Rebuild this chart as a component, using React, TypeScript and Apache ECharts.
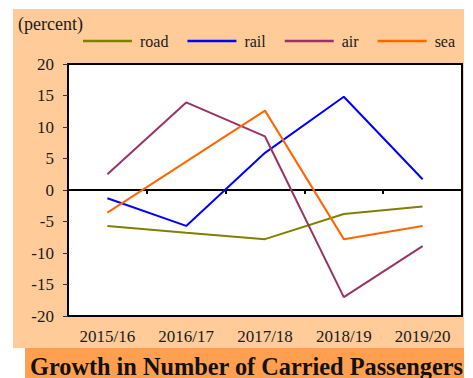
import React, { useEffect, useRef } from "react";
import * as echarts from "echarts";

// Fiscal years on the category axis
const years = ["2015/16", "2016/17", "2017/18", "2018/19", "2019/20"];

// Growth rates (percent) by transport mode
const road = [-5.7, -6.8, -7.8, -3.8, -2.6];
const rail = [-1.3, -5.7, 5.9, 14.8, 1.7];
const air = [2.5, 13.9, 8.5, -17.0, -8.9];
const sea = [-3.6, 4.5, 12.6, -7.8, -5.7];

const yMin = -20;
const yMax = 20;
const yStep = 5;

const unitLabel = "(percent)";
const titleText = "Growth in Number of Carried Passengers";

const SERIF = "'Liberation Serif', 'Times New Roman', serif";

export default function App() {
  const ref = useRef<HTMLDivElement>(null);

  useEffect(() => {
    if (!ref.current) return;
    const chart = echarts.init(ref.current, undefined, { renderer: "svg" });

    const mk = (name: string, data: number[], color: string) => ({
      name,
      type: "line",
      data,
      xAxisIndex: 0,
      symbol: "none",
      lineStyle: { color, width: 2 },
      itemStyle: { color },
      z: 3,
    });

    chart.setOption({
      animation: false,
      backgroundColor: "#ffffff",
      textStyle: { fontFamily: SERIF },
      graphic: [
        {
          type: "rect",
          z: -10,
          shape: { x: 13, y: 9, width: 451, height: 339 },
          style: { fill: "#FFCC99" },
          silent: true,
        },
        {
          type: "rect",
          z: -10,
          shape: { x: 25, y: 348, width: 439, height: 30 },
          style: { fill: "#FF9F4F" },
          silent: true,
        },
        {
          type: "text",
          x: 18,
          y: 24,
          style: {
            text: unitLabel,
            font: `18px ${SERIF}`,
            fill: "#1a1a1a",
            verticalAlign: "middle",
          },
        },
        {
          type: "text",
          x: 30,
          y: 366,
          style: {
            text: titleText,
            font: `bold 24.3px ${SERIF}`,
            fill: "#111",
            verticalAlign: "middle",
          },
        },
      ],
      legend: {
        left: 83,
        top: 33,
        padding: 0,
        icon: "rect",
        itemWidth: 49,
        itemHeight: 2.5,
        itemGap: 19,
        formatter: "{s|{name}}",
        textStyle: {
          fontFamily: SERIF,
          fontSize: 16,
          color: "#1a1a1a",
          rich: {
            s: { fontFamily: SERIF, fontSize: 16, color: "#1a1a1a", padding: [0, 0, 0, 3] },
          },
        },
        data: ["road", "rail", "air", "sea"],
      },
      grid: {
        left: 68,
        top: 64,
        right: 11,
        bottom: 62,
        show: true,
        backgroundColor: "#ffffff",
        borderColor: "#000",
        borderWidth: 2,
      },
      xAxis: [
        {
          type: "category",
          data: years,
          boundaryGap: true,
          position: "bottom",
          axisLine: { show: false, onZero: false },
          axisTick: { show: false },
          axisLabel: {
            fontFamily: SERIF,
            fontSize: 17,
            color: "#1a1a1a",
            margin: 12,
          },
          splitLine: { show: false },
        },
        {
          type: "category",
          data: years,
          boundaryGap: true,
          position: "top",
          axisLine: { show: true, onZero: true, lineStyle: { color: "#000", width: 2 } },
          axisTick: { show: true, inside: true, length: 4, lineStyle: { color: "#000", width: 2 } },
          axisLabel: { show: false },
          splitLine: { show: false },
        },
      ],
      yAxis: {
        type: "value",
        min: yMin,
        max: yMax,
        interval: yStep,
        axisLine: { show: true, lineStyle: { color: "#000", width: 2 } },
        axisTick: { show: true, length: 5, lineStyle: { color: "#333", width: 1 } },
        axisLabel: {
          fontFamily: SERIF,
          fontSize: 17,
          color: "#1a1a1a",
          margin: 14,
        },
        splitLine: { show: false },
      },
      series: [
        mk("road", road, "#808000"),
        mk("rail", rail, "#0000FF"),
        mk("air", air, "#993366"),
        mk("sea", sea, "#FF6600"),
      ],
    });

    return () => chart.dispose();
  }, []);

  return (
    <div
      ref={ref}
      style={{ position: "absolute", left: 0, top: 0, width: 473, height: 378 }}
    />
  );
}
